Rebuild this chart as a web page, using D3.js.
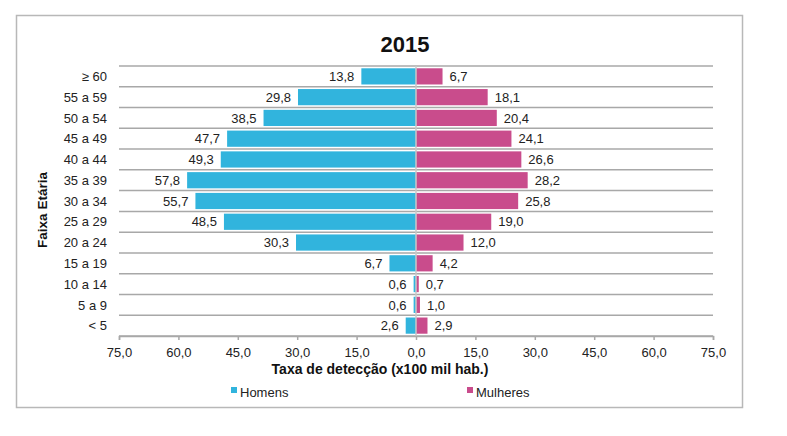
<!DOCTYPE html>
<html>
<head>
<meta charset="utf-8">
<script src="https://cdn.jsdelivr.net/npm/d3@7"></script>
<style>
  html, body { margin: 0; padding: 0; background: #fff; }
  svg { display: block; }
  text { font-family: "Liberation Sans", Arial, sans-serif; }
</style>
</head>
<body>
<svg id="chart" width="787" height="436"></svg>
<script>
const title = "2015";
const categories = ["≥ 60", "55 a 59", "50 a 54", "45 a 49", "40 a 44", "35 a 39", "30 a 34", "25 a 29", "20 a 24", "15 a 19", "10 a 14", "5 a 9", "< 5"];
const homens = [13.8, 29.8, 38.5, 47.7, 49.3, 57.8, 55.7, 48.5, 30.3, 6.7, 0.6, 0.6, 2.6];
const mulheres = [6.7, 18.1, 20.4, 24.1, 26.6, 28.2, 25.8, 19.0, 12.0, 4.2, 0.7, 1.0, 2.9];
const tickValues = [-75, -60, -45, -30, -15, 0, 15, 30, 45, 60, 75];
const seriesNames = ["Homens", "Mulheres"];
const xTitle = "Taxa de detecção (x100 mil hab.)";
const yTitle = "Faixa Etária";

const colors = { Homens: "#31B4DD", Mulheres: "#C94C8C" };
const fmt = v => d3.format(".1f")(Math.abs(v)).replace(".", ",");

const svg = d3.select("#chart");
const x = d3.scaleLinear().domain([-75, 75]).range([119, 713]);
const y = d3.scaleBand().domain(categories).range([66, 336]).paddingInner(0.22).paddingOuter(0.11);
const bandH = y.step();
const barH = y.bandwidth();

// outer border
svg.append("rect").attr("x", 16.5).attr("y", 15.5).attr("width", 726).attr("height", 392)
  .attr("fill", "none").attr("stroke", "#b8b8b8").attr("stroke-width", 1.5);

// title
svg.append("text").attr("x", 405).attr("y", 52).attr("text-anchor", "middle")
  .attr("font-size", 22).attr("font-weight", "bold").attr("fill", "#111").text(title);

// horizontal gridlines at band boundaries
const bounds = categories.map(c => y(c) - y.step() * y.paddingInner() / 2);
bounds[0] = 66;
bounds.push(336);
svg.append("g").selectAll("line").data(bounds).join("line")
  .attr("x1", x(-75)).attr("x2", x(75)).attr("y1", d => d).attr("y2", d => d)
  .attr("stroke", "#a8a8a8").attr("stroke-width", 1.5);

// bars
const rowsH = categories.map((c, i) => ({ c, v: homens[i] }));
const rowsM = categories.map((c, i) => ({ c, v: mulheres[i] }));

svg.append("g").selectAll("rect").data(rowsH).join("rect")
  .attr("x", d => x(-d.v)).attr("width", d => x(0) - x(-d.v))
  .attr("y", d => y(d.c)).attr("height", barH).attr("fill", colors.Homens);
svg.append("g").selectAll("rect").data(rowsM).join("rect")
  .attr("x", x(0)).attr("width", d => x(d.v) - x(0))
  .attr("y", d => y(d.c)).attr("height", barH).attr("fill", colors.Mulheres);

// zero axis line
svg.append("line").attr("x1", x(0)).attr("x2", x(0)).attr("y1", 66).attr("y2", 336)
  .attr("stroke", "#c8c8c8").attr("stroke-width", 1.5);

// value labels
svg.append("g").selectAll("text").data(rowsH).join("text")
  .attr("x", d => x(-d.v) - 7).attr("y", d => y(d.c) + barH / 2 + 4.7)
  .attr("text-anchor", "end").attr("font-size", 13).attr("fill", "#222").text(d => fmt(d.v));
svg.append("g").selectAll("text").data(rowsM).join("text")
  .attr("x", d => x(d.v) + 7).attr("y", d => y(d.c) + barH / 2 + 4.7)
  .attr("text-anchor", "start").attr("font-size", 13).attr("fill", "#222").text(d => fmt(d.v));

// category labels
svg.append("g").selectAll("text").data(categories).join("text")
  .attr("x", 107).attr("y", c => y(c) + barH / 2 + 4.7)
  .attr("text-anchor", "end").attr("font-size", 13).attr("fill", "#222").text(c => c);

// x axis
const xAxis = d3.axisBottom(x).tickValues(tickValues).tickFormat(fmt).tickSize(4).tickPadding(8);
const gx = svg.append("g").attr("transform", "translate(0,336)").call(xAxis);
gx.select(".domain").attr("stroke", "#a8a8a8").attr("stroke-width", 1.5);
gx.selectAll(".tick line").attr("stroke", "#a8a8a8").attr("stroke-width", 1.5);
gx.selectAll(".tick text").attr("font-size", 13).attr("fill", "#222")
  .attr("font-family", "'Liberation Sans', Arial, sans-serif");

// axis titles
svg.append("text").attr("x", 380).attr("y", 374).attr("text-anchor", "middle")
  .attr("font-size", 14).attr("font-weight", "bold").attr("fill", "#111").text(xTitle);
svg.append("text").attr("transform", "translate(47,210) rotate(-90)").attr("text-anchor", "middle")
  .attr("font-size", 13.5).attr("font-weight", "bold").attr("fill", "#111").text(yTitle);

// legend
const legendPos = [231, 467];
const lg = svg.append("g").selectAll("g").data(seriesNames).join("g")
  .attr("transform", (d, i) => `translate(${legendPos[i]},386)`);
lg.append("rect").attr("width", 6).attr("height", 6).attr("y", 1).attr("fill", d => colors[d]);
lg.append("text").attr("x", 9).attr("y", 10.5).attr("font-size", 13).attr("fill", "#222").text(d => d);
</script>
</body>
</html>
